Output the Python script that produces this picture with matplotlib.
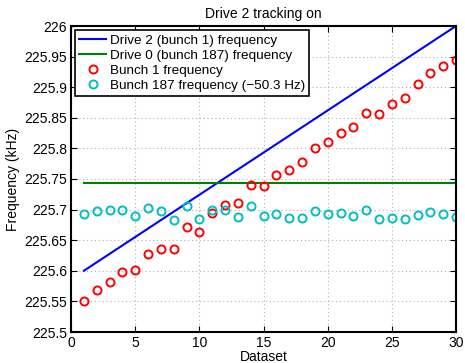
import matplotlib
matplotlib.use("Agg")
import matplotlib.pyplot as plt
import numpy as np

plt.rcParams['font.family'] = ['Liberation Sans', 'DejaVu Sans']

dataset = list(range(1, 31))
drive2_x = [1, 30]
drive2_y = [225.6, 226.0]
drive0_x = [1, 30]
drive0_y = [225.744, 225.744]
bunch1 = [225.551, 225.568, 225.582, 225.598, 225.601, 225.627, 225.636, 225.635,
          225.672, 225.664, 225.694, 225.708, 225.710, 225.741, 225.739, 225.756,
          225.764, 225.778, 225.801, 225.811, 225.825, 225.835, 225.858, 225.857,
          225.872, 225.883, 225.905, 225.923, 225.935, 225.944]
bunch187 = [225.693, 225.697, 225.699, 225.700, 225.690, 225.703, 225.698, 225.683,
            225.706, 225.684, 225.700, 225.699, 225.688, 225.706, 225.690, 225.693,
            225.687, 225.687, 225.698, 225.693, 225.694, 225.690, 225.700, 225.685,
            225.686, 225.684, 225.691, 225.696, 225.692, 225.688]
xticks = [0, 5, 10, 15, 20, 25, 30]
yticks = [225.5, 225.55, 225.6, 225.65, 225.7, 225.75, 225.8, 225.85, 225.9, 225.95, 226]
ytick_labels = ['225.5', '225.55', '225.6', '225.65', '225.7', '225.75', '225.8',
                '225.85', '225.9', '225.95', '226']

fig = plt.figure(figsize=(4.65, 3.63), dpi=100)
ax = fig.add_axes([71/465, 31/363, 385/465, 306/363])

ax.plot(drive2_x, drive2_y, color=(0, 0, 1), lw=1.5, label='Drive 2 (bunch 1) frequency')
ax.plot(drive0_x, drive0_y, color=(0, 0.5, 0), lw=1.5, label='Drive 0 (bunch 187) frequency')
ax.plot(dataset, bunch1, 'o', color='red', mfc='none', mew=1.4, ms=5.8, label='Bunch 1 frequency')
ax.plot(dataset, bunch187, 'o', color=(0, 0.75, 0.75), mfc='none', mew=1.4, ms=5.8,
        label='Bunch 187 frequency (\u221250.3 Hz)')

ax.set_xlim(0, 30)
ax.set_ylim(225.5, 226)
ax.set_xticks(xticks)
ax.set_yticks(yticks)
ax.set_yticklabels(ytick_labels)
ax.tick_params(direction='in', top=True, right=True, labelsize=10, length=4, width=0.8, pad=3)
ax.grid(True, linestyle=(0, (1, 2.5)), color='#b0b0b0', lw=0.8)
for s in ax.spines.values():
    s.set_linewidth(1.5)

ax.set_title('Drive 2 tracking on', fontsize=10, pad=6)
ax.set_xlabel('Dataset', fontsize=10, labelpad=0)
ax.set_ylabel('Frequency (kHz)', fontsize=10, labelpad=3)

leg = ax.legend(loc='upper left', fontsize=9.7, frameon=True, fancybox=False,
                edgecolor='black', borderaxespad=0.3, handlelength=2.0,
                labelspacing=0.2, borderpad=0.3, handletextpad=0.3, framealpha=1)
leg.get_frame().set_linewidth(1.2)

fig.savefig('out.png', dpi=100)
